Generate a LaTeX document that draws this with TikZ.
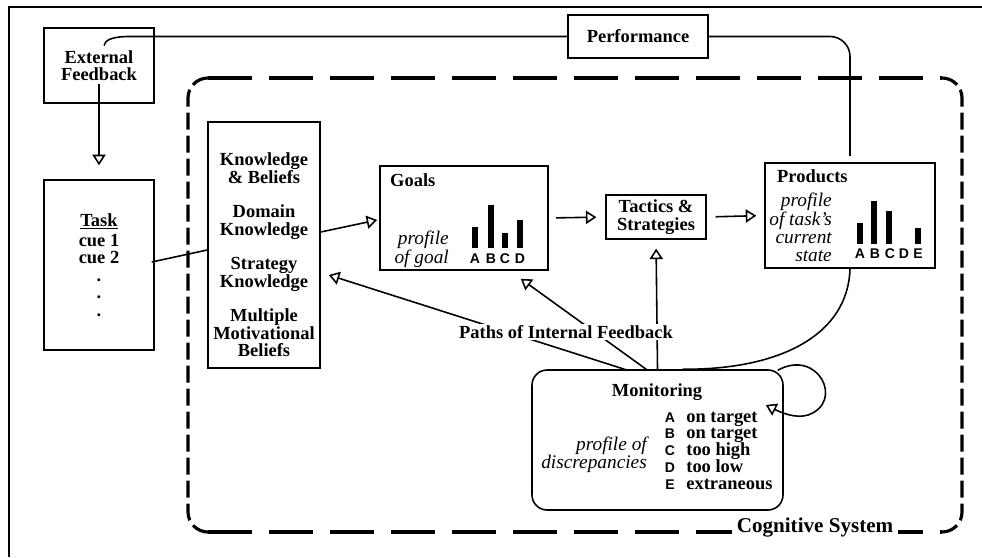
\documentclass[tikz,border=0pt]{standalone}
\usepackage{fontspec}
\setmainfont{Liberation Serif}
\setsansfont{Liberation Sans}
\usetikzlibrary{arrows.meta,calc}

\begin{document}
\begin{tikzpicture}[x=0.02cm, y=-0.02cm,
    box/.style={draw, line width=0.9pt, inner sep=0pt},
    lbl/.style={font=\fontsize{10.5}{10}\selectfont\bfseries, align=center},
    prof/.style={font=\fontsize{11}{10}\selectfont\itshape, align=right},
    tri/.style={line width=0.9pt, -{Triangle[open,length=6pt,width=7.5pt]}},
    wire/.style={line width=0.9pt},
    barlbl/.style={font=\sffamily\fontsize{8}{8}\selectfont\bfseries, inner sep=0pt},
    cogdash/.style={line width=1.8pt}]
    \useasboundingbox (0,0) rectangle (982,557);
    % page frame
    \draw[line width=1.2pt] (9,557) -- (9,7) -- (982,7);

    % Cognitive System boundary
    \draw[cogdash, dash pattern=on 0.88cm off 0.34cm] (208,78) -- (942,78) (208,532) -- (942,532);
    \draw[cogdash, rounded corners=0.4cm, dash pattern=on 0.34cm off 0.12cm] (208,78) -- (188,78) -- (188,532) -- (208,532);
    \draw[cogdash, rounded corners=0.4cm, dash pattern=on 0.34cm off 0.12cm] (942,78) -- (962,78) -- (962,532) -- (942,532);
    \node[fill=white, font=\fontsize{12}{12}\selectfont\bfseries, inner sep=3pt] (cog) at (815,528) {Cognitive System};

    % External Feedback and Performance
    \node[box, lbl, minimum width=2.2cm, minimum height=1.5cm] (ext) at (99,65.5) {External\\Feedback};
    \node[box, lbl, minimum width=2.8cm, minimum height=0.86cm] (perf) at (638,36.5) {Performance};

    % Task
    \node[box, lbl, minimum width=2.2cm, minimum height=3.4cm] (task) at (99,265) {\underline{Task}\\[1.5pt]cue 1\\cue 2\\.\\.\\.};

    % Knowledge & Beliefs
    \node[box, minimum width=2.24cm, minimum height=4.92cm] (know) at (264,245) {};
    \node[lbl] (knowtxt) at (264,255) {Knowledge\\\& Beliefs\\[9.5pt]Domain\\Knowledge\\[9.5pt]Strategy\\Knowledge\\[9.5pt]Multiple\\Motivational\\Beliefs};

    % Goals
    \node[box, minimum width=3.36cm, minimum height=2.08cm] (goals) at (464,218) {};
    \node[lbl, anchor=west] (goalsttl) at (384,180) {Goals};
    \node[prof, anchor=east] (goalsprof) at (455,249) {profile\\of goal};
    \foreach \x/\t/\l in {475/227/A, 491/205/B, 505/233/C, 520/220/D} {
        \fill (\x-3,\t) rectangle (\x+3,248);
        \node[barlbl] (g\l) at (\x,259) {\l};
    }

    % Tactics & Strategies
    \node[box, lbl, minimum width=2.0cm, minimum height=0.88cm] (tact) at (656,217) {Tactics \&\\Strategies};

    % Products
    \node[box, minimum width=3.4cm, minimum height=2.1cm] (prod) at (850,215.5) {};
    \node[lbl, anchor=west] (prodttl) at (771,176) {Products};
    \node[prof, anchor=east] (prodprof) at (838,227) {profile\\of task's\\current\\state};
    \foreach \x/\t in {860/223, 874/201, 889/211, 918/228}
        \fill (\x-3,\t) rectangle (\x+3,244);
    \foreach \x/\l in {860/A, 875/B, 890/C, 904/D, 918/E}
        \node[barlbl] (p\l) at (\x,254) {\l};

    % Monitoring
    \node[box, rounded corners=0.3cm, minimum width=5.02cm, minimum height=2.8cm] (mon) at (657.5,440) {};
    \node[lbl] (monttl) at (657,392) {Monitoring};
    \node[prof, anchor=east] (monprof) at (653,455) {profile of\\discrepancies};
    \foreach \y/\l/\t in {422/A/on target, 438.75/B/on target, 455.5/C/too high, 472.25/D/too low, 489/E/extraneous} {
        \node[barlbl, anchor=base] (m\l) at (670,\y) {\l};
        \node[lbl, anchor=base west, inner sep=0pt] (mt\l) at (686,\y) {\t};
    }

    % connectors
    \draw[tri] ($(ext.south)+(0,-20)$) -- ($(task.north)+(0,-14)$);
    \coordinate (fbend) at ($(ext.center)+(5,-20)$);
    \draw[wire] (perf.west) -- (130,36.5) .. controls (112,36.5) and (105,40) .. (fbend);
    \draw[wire, rounded corners=0.4cm] (perf.east) -| ($(prod.north)+(0,-6)$);
    \draw[wire] ($(task.east)+(-3,-3)$) -- ($(know.west)+(0,5)$);
    \draw[tri] ($(know.east)+(0,-13)$) -- ($(goals.west)+(-2,2)$);
    \draw[tri, shorten <=4pt, shorten >=5pt] (goals.east) -- (tact.west);
    \draw[tri, shorten <=5pt, shorten >=4.5pt] (tact.east) -- (prod.west);

    % paths of internal feedback
    \draw[tri] ($(mon.north)+(-30,1)$) -- ($(know.east)+(8,30)$);
    \draw[tri] ($(mon.north)+(-10,1)$) -- ($(goals.south east)+(-28,8)$);
    \draw[tri, shorten >=5pt] (mon.north) -- (tact.south);
    \draw[wire] (prod.south) .. controls (848,335) and (780,370) .. ($(mon.north)+(25,0)$);
    \node[lbl, fill=white, inner sep=1pt] (paths) at (566,332) {Paths of Internal Feedback};

    % self loop on Monitoring
    \coordinate (loopin) at ($(mon.north east)+(-6,1)$);
    \coordinate (loopout) at ($(mon.east)+(-18,-35)$);
    \draw[tri] (loopin) .. controls (818,348) and (845,402) .. (808,415) .. controls (795,419) and (780,412) .. (loopout);
\end{tikzpicture}
\end{document}
